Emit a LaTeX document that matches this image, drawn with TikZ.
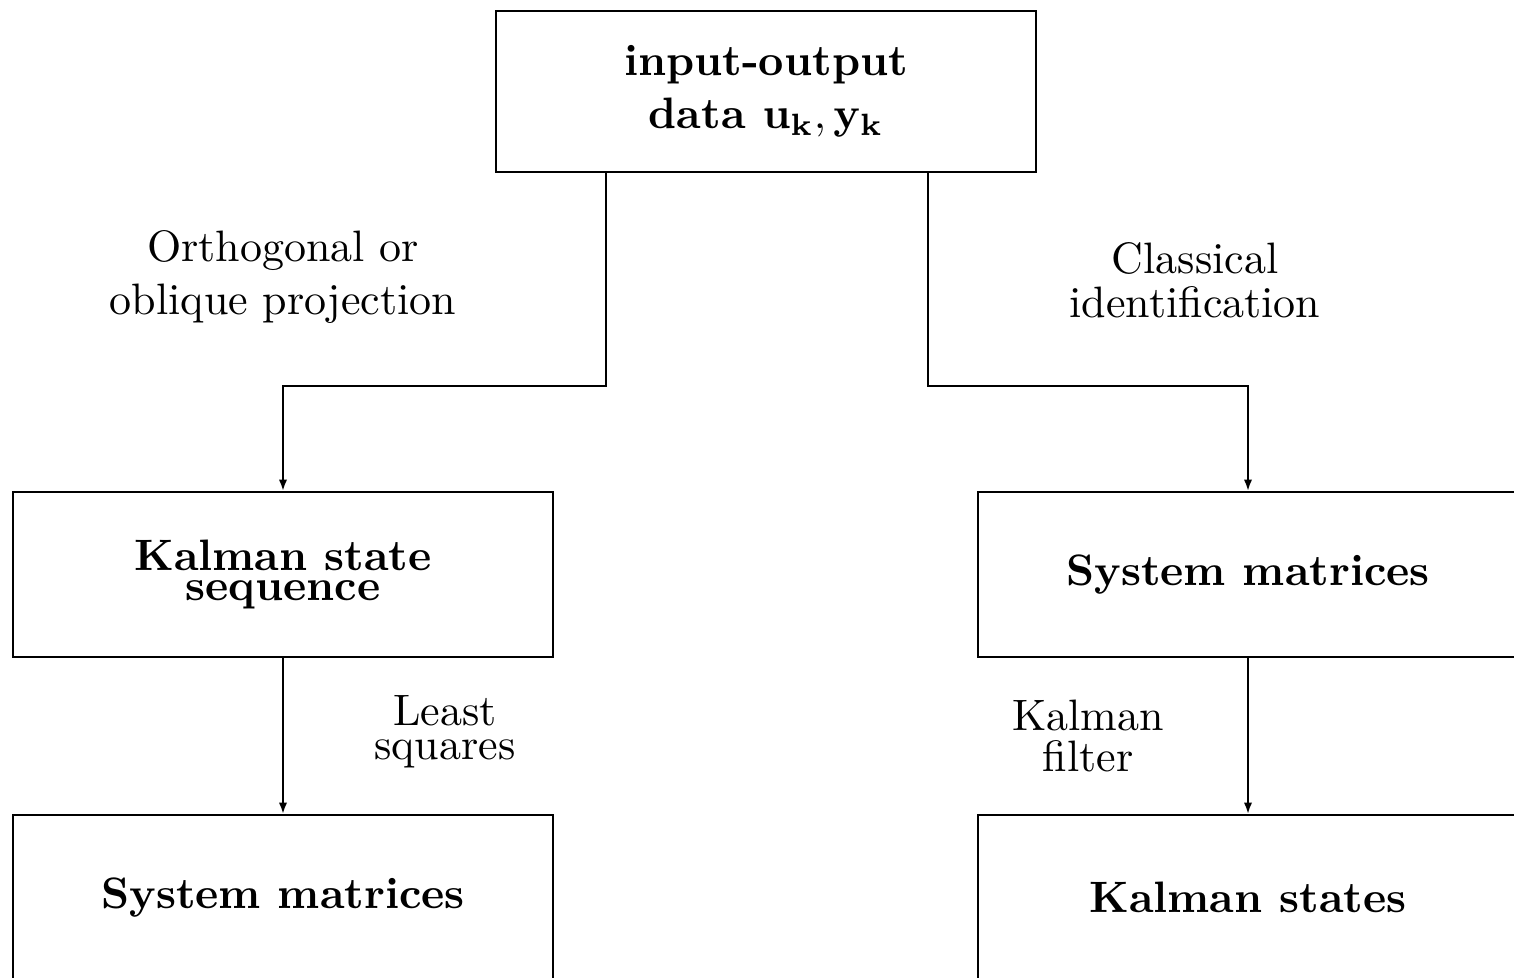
\documentclass[tikz,border=0pt]{standalone}
\usetikzlibrary{arrows.meta}
\begin{document}
\begin{tikzpicture}[x=0.2273pt,y=-0.2273pt,
  box/.style={draw, line width=0.45pt, minimum width=122.7pt, minimum height=37.5pt,
    inner sep=0pt, align=center, font=\bfseries\fontsize{10}{12}\selectfont},
  lbl/.style={inner sep=0pt, align=center},
  arr/.style={line width=0.45pt, -{Latex[length=2.6pt,width=1.9pt]}}]
\useasboundingbox (0,0) rectangle (1514,978);
\node[box, minimum height=36.6pt] (top) at (766,91.5) {input-output\\data $\mathbf{u_k}, \mathbf{y_k}$};
\node[box, font=\bfseries\fontsize{10}{6.9}\selectfont] (kss) at (283,574.5) {Kalman state\\sequence};
\node[box] (sm2) at (1248,574.5) {System matrices};
\node[box] (sm1) at (283,897.5) {System matrices};
\node[box] (ks) at (1248,897.5) {Kalman states};
\draw[arr] ([xshift=-36.4pt]top.south) -- ++(0,213) -| (kss.north);
\draw[arr] ([xshift=36.8pt]top.south) -- ++(0,213) -| (sm2.north);
\draw[arr] (kss.south) -- (sm1.north);
\draw[arr] (sm2.south) -- (ks.north);
\node[lbl, font=\fontsize{10}{12}\selectfont] (op) at (283,277) {Orthogonal or\\oblique projection};
\node[lbl, font=\fontsize{10}{10}\selectfont] (ci) at (1195,280) {Classical\\identification};
\node[lbl, font=\fontsize{10}{7.7}\selectfont] (ls) at (445,732) {Least\\squares};
\node[lbl, font=\fontsize{10}{9.5}\selectfont] (kf) at (1088,736) {Kalman\\filter};
\end{tikzpicture}
\end{document}
